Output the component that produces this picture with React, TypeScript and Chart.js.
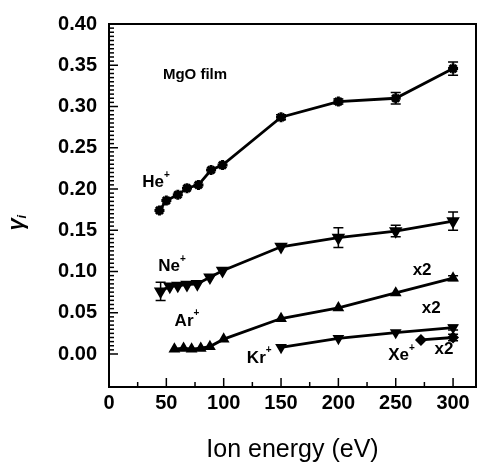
import React, { useEffect, useRef } from "react";
import { Chart, registerables } from "chart.js";
Chart.register(...registerables);

// ---- data ----
const heEnergy = [44, 50, 60, 68, 78, 89, 99, 150, 200, 250, 300];
const heGamma = [0.174, 0.186, 0.193, 0.201, 0.205, 0.223, 0.229, 0.287, 0.306, 0.310, 0.346];
const heError = [0, 0, 0, 0, 0, 0, 0, 0.003, 0.003, 0.007, 0.008];

const neEnergy = [45, 53, 60, 68, 77, 88, 99, 150, 200, 250, 300];
const neGamma = [0.076, 0.082, 0.083, 0.084, 0.085, 0.093, 0.101, 0.130, 0.141, 0.149, 0.161];
const neError = [0.011, 0, 0, 0, 0, 0, 0, 0, 0.012, 0.007, 0.011];

const arEnergy = [57, 65, 72, 80, 88, 100, 150, 200, 250, 300];
const arGamma = [0.006, 0.007, 0.006, 0.007, 0.009, 0.018, 0.043, 0.056, 0.074, 0.092];
const arError = [0, 0, 0, 0, 0, 0, 0, 0, 0, 0.003];

const krEnergy = [150, 200, 250, 300];
const krGamma = [0.008, 0.019, 0.026, 0.032];
const krError = [0, 0, 0, 0.003];

const xeEnergy = [272, 300];
const xeGamma = [0.017, 0.020];
const xeError = [0, 0.004];

const xTickValues = [0, 50, 100, 150, 200, 250, 300];
const yTickValues = [0.0, 0.05, 0.1, 0.15, 0.2, 0.25, 0.3, 0.35, 0.4];

// annotations: [text, superscript, energy, gamma, fontSize]
const annotations: [string, string, number, number, number][] = [
  ["MgO film", "", 75, 0.338, 15],
  ["He", "+", 41, 0.208, 17],
  ["Ne", "+", 55, 0.106, 17],
  ["Ar", "+", 68, 0.040, 17],
  ["Kr", "+", 131, -0.005, 17],
  ["Xe", "+", 255, -0.002, 17],
  ["x2", "", 273, 0.102, 17],
  ["x2", "", 281, 0.055, 17],
  ["x2", "", 292, 0.006, 17],
];

const FONT = "'Liberation Sans', Arial, sans-serif";

const errorSets = [heError, neError, arError, krError, xeError];

const decorPlugin = {
  id: "decor",
  afterDatasetsDraw(chart: any) {
    const { ctx, chartArea: a, scales } = chart;
    const xs = scales.x;
    const ys = scales.y;
    ctx.save();
    ctx.strokeStyle = "#000";
    ctx.fillStyle = "#000";

    // frame
    ctx.lineWidth = 2;
    ctx.strokeRect(a.left, a.top, a.right - a.left, a.bottom - a.top);

    // y ticks (inward)
    ctx.lineWidth = 1.5;
    for (let i = 0; i <= 80; i++) {
      const v = i * 0.005;
      const py = ys.getPixelForValue(v);
      const major = i % 10 === 0;
      ctx.beginPath();
      ctx.moveTo(a.left, py);
      ctx.lineTo(a.left + (major ? 9 : 5), py);
      ctx.stroke();
    }
    // x ticks (inward)
    for (let e = 25; e <= 300; e += 25) {
      const px = xs.getPixelForValue(e);
      const major = e % 50 === 0;
      ctx.beginPath();
      ctx.moveTo(px, a.bottom);
      ctx.lineTo(px, a.bottom - (major ? 9 : 5));
      ctx.stroke();
    }

    // error bars
    ctx.lineWidth = 1.5;
    chart.data.datasets.forEach((ds: any, di: number) => {
      const errs = errorSets[di];
      ds.data.forEach((p: any, pi: number) => {
        const err = errs[pi];
        if (!err) return;
        const px = xs.getPixelForValue(p.x);
        const top = ys.getPixelForValue(p.y + err);
        const bot = ys.getPixelForValue(p.y - err);
        ctx.beginPath();
        ctx.moveTo(px, top);
        ctx.lineTo(px, bot);
        ctx.moveTo(px - 5, top);
        ctx.lineTo(px + 5, top);
        ctx.moveTo(px - 5, bot);
        ctx.lineTo(px + 5, bot);
        ctx.stroke();
      });
    });

    // text annotations
    ctx.textBaseline = "middle";
    annotations.forEach(([t, sup, e, g, size]) => {
      const px = xs.getPixelForValue(e);
      const py = ys.getPixelForValue(g);
      ctx.font = `bold ${size}px ${FONT}`;
      const w = ctx.measureText(t).width;
      let sw = 0;
      if (sup) {
        ctx.font = `bold 10px ${FONT}`;
        sw = ctx.measureText(sup).width;
      }
      const x0 = px - (w + sw) / 2;
      ctx.font = `bold ${size}px ${FONT}`;
      ctx.textAlign = "left";
      ctx.fillText(t, x0, py);
      if (sup) {
        ctx.font = `bold 10px ${FONT}`;
        ctx.fillText(sup, x0 + w, py - size * 0.45);
      }
    });

    // y axis title (gamma_i)
    ctx.save();
    ctx.translate(17, (a.top + a.bottom) / 2 + 16);
    ctx.rotate(-Math.PI / 2);
    ctx.textAlign = "left";
    ctx.font = `italic bold 22px ${FONT}`;
    const gw = ctx.measureText("γ").width;
    ctx.fillText("γ", -gw / 2 - 3, 0);
    ctx.font = `italic bold 13px ${FONT}`;
    ctx.fillText("i", gw / 2 - 3, 5);
    ctx.restore();

    ctx.restore();
  },
};

function pts(xv: number[], yv: number[]) {
  return xv.map((x, i) => ({ x, y: yv[i] }));
}

export default function App() {
  const ref = useRef<HTMLCanvasElement>(null);
  useEffect(() => {
    document.body.style.margin = "0";
    const common = {
      borderColor: "#000",
      backgroundColor: "#000",
      pointBackgroundColor: "#000",
      pointBorderColor: "#000",
      borderWidth: 2.8,
      tension: 0,
      fill: false,
    };
    const chart = new Chart(ref.current!, {
      type: "line",
      data: {
        datasets: [
          { ...common, label: "He+", data: pts(heEnergy, heGamma), pointStyle: "star", pointRadius: 5, pointBorderWidth: 3 },
          { ...common, label: "Ne+", data: pts(neEnergy, neGamma), pointStyle: "triangle", pointRotation: 180, pointRadius: 5 },
          { ...common, label: "Ar+", data: pts(arEnergy, arGamma), pointStyle: "triangle", pointRadius: 4 },
          { ...common, label: "Kr+", data: pts(krEnergy, krGamma), pointStyle: "triangle", pointRotation: 180, pointRadius: 4 },
          { ...common, label: "Xe+", data: pts(xeEnergy, xeGamma), pointStyle: "rectRot", pointRadius: 4 },
        ] as any,
      },
      options: {
        animation: false,
        responsive: false,
        devicePixelRatio: 1,
        layout: { padding: { top: 18, right: 4, left: 0, bottom: 0 } },
        plugins: { legend: { display: false }, tooltip: { enabled: false } },
        scales: {
          x: {
            type: "linear",
            min: 0,
            max: 320,
            grid: { display: false, drawTicks: false },
            border: { display: false },
            afterBuildTicks: (s: any) => {
              s.ticks = xTickValues.map((v) => ({ value: v }));
            },
            afterFit: (s: any) => {
              s.height = 82;
            },
            ticks: {
              autoSkip: false,
              maxRotation: 0,
              padding: 4,
              color: "#000",
              font: { family: FONT, size: 20, weight: "bold" },
              callback: (v: any) => String(v),
            },
            title: {
              display: true,
              text: "Ion energy (eV)",
              color: "#000",
              font: { family: FONT, size: 25 },
              padding: { top: 8 },
            },
          },
          y: {
            type: "linear",
            min: -0.04,
            max: 0.4,
            grid: { display: false, drawTicks: false },
            border: { display: false },
            afterBuildTicks: (s: any) => {
              s.ticks = yTickValues.map((v) => ({ value: v }));
            },
            afterFit: (s: any) => {
              s.width = 109;
            },
            ticks: {
              padding: 12,
              color: "#000",
              font: { family: FONT, size: 20, weight: "bold" },
              callback: (v: any) => Number(v).toFixed(2),
            },
          },
        },
      } as any,
      plugins: [decorPlugin],
    });
    return () => chart.destroy();
  }, []);
  return (
    <canvas ref={ref} width={484} height={469} style={{ display: "block", width: 484, height: 469 }} />
  );
}
